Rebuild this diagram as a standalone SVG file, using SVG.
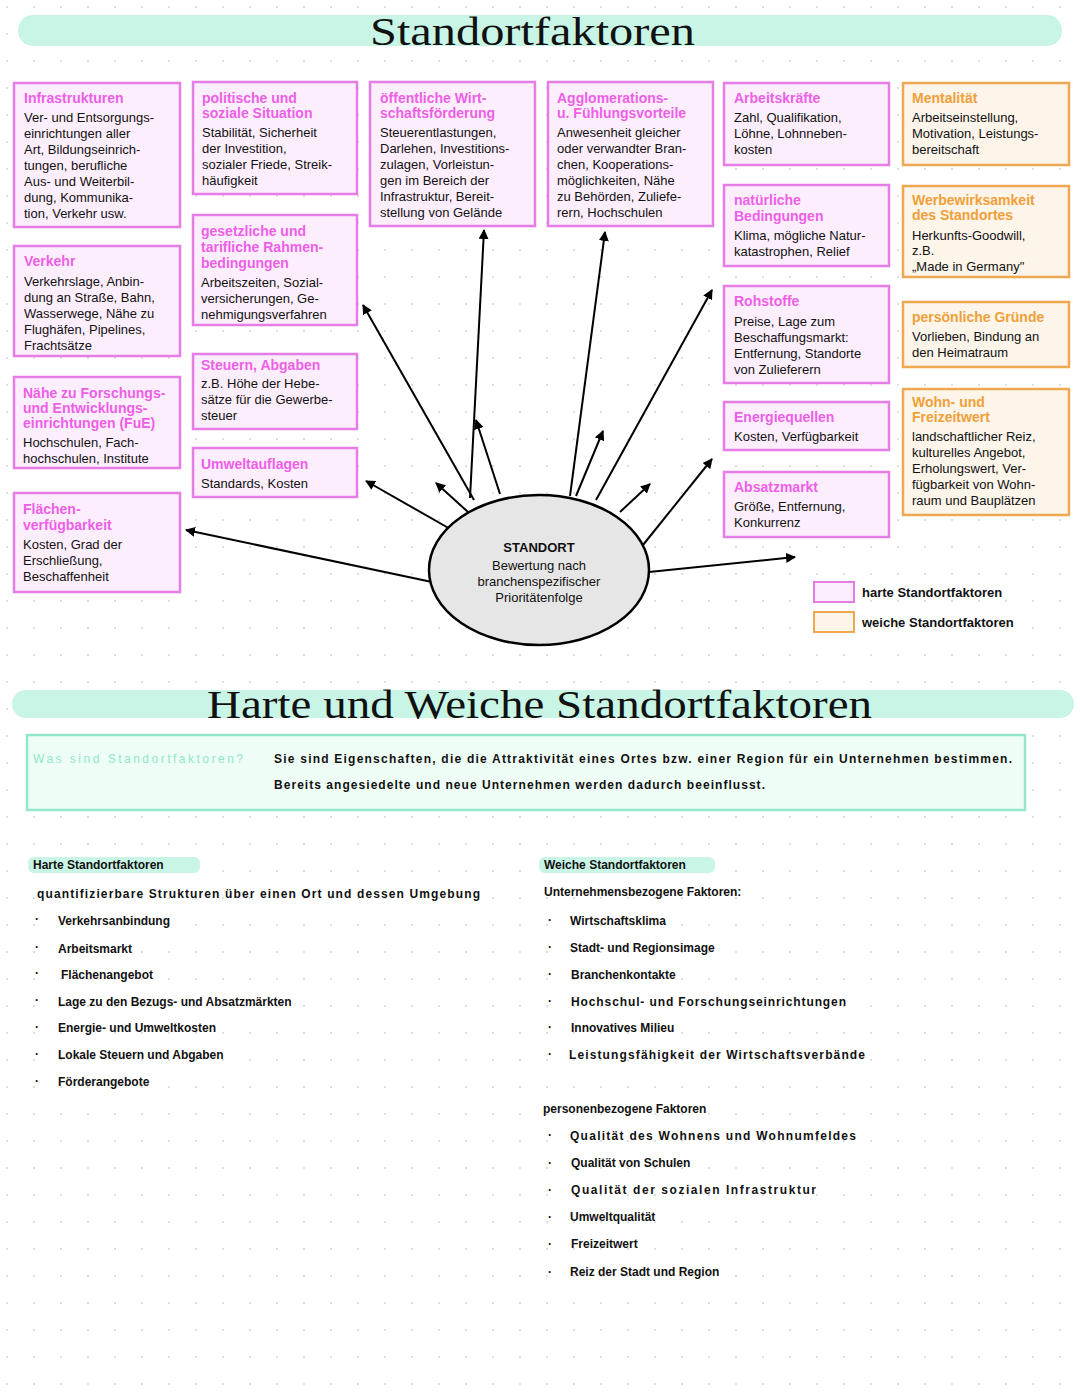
<svg xmlns="http://www.w3.org/2000/svg" width="1080" height="1394" viewBox="0 0 1080 1394">
<defs>
<pattern id="dots" width="27" height="27" patternUnits="userSpaceOnUse" x="5" y="5"><circle cx="2" cy="2" r="1" fill="#d4d4d4"/></pattern>
<marker id="ah" viewBox="0 0 10 10" refX="9" refY="5" markerWidth="5" markerHeight="5" orient="auto"><path d="M0,0 L10,5 L0,10 z" fill="#000"/></marker>
<style>
.hb{fill:#fdeefd;stroke:#e67de6;stroke-width:2.5}
.sb{fill:#fdf4ea;stroke:#f0a850;stroke-width:2.5}
.ht{font-family:"Liberation Sans",sans-serif;font-size:14px;font-weight:bold;fill:#ee5fe8}
.st{font-family:"Liberation Sans",sans-serif;font-size:14px;font-weight:bold;fill:#f0a038}
.t{font-family:"Liberation Sans",sans-serif;font-size:13px;fill:#111}
.h{font-family:"Liberation Serif",serif;font-size:40px;fill:#111}
.n{font-family:"Liberation Sans",sans-serif;font-size:12px;fill:#111;font-weight:bold}
.c line{stroke:#000;stroke-width:2;marker-end:url(#ah)}
</style>
</defs>
<rect width="1080" height="1394" fill="#fff"/>
<rect width="1080" height="1394" fill="url(#dots)"/>
<rect x="18" y="15" width="1044" height="31" rx="15" fill="#c9f5e6"/>
<text class="h" x="370" y="45" textLength="325" lengthAdjust="spacingAndGlyphs">Standortfaktoren</text>

<g id="infrastrukturen"><rect class="hb" x="14" y="83" width="166" height="144"/><text class="ht" x="24" y="103">Infrastrukturen</text><text class="t" x="24" y="122">Ver- und Entsorgungs-</text><text class="t" x="24" y="138">einrichtungen aller</text><text class="t" x="24" y="154">Art, Bildungseinrich-</text><text class="t" x="24" y="170">tungen, berufliche</text><text class="t" x="24" y="186">Aus- und Weiterbil-</text><text class="t" x="24" y="202">dung, Kommunika-</text><text class="t" x="24" y="218">tion, Verkehr usw.</text></g>
<g id="verkehr"><rect class="hb" x="14" y="246" width="166" height="110"/><text class="ht" x="24" y="266">Verkehr</text><text class="t" x="24" y="286">Verkehrslage, Anbin-</text><text class="t" x="24" y="302">dung an Straße, Bahn,</text><text class="t" x="24" y="318">Wasserwege, Nähe zu</text><text class="t" x="24" y="334">Flughäfen, Pipelines,</text><text class="t" x="24" y="350">Frachtsätze</text></g>
<g id="fue"><rect class="hb" x="14" y="377" width="166" height="91"/><text class="ht" x="23" y="398">Nähe zu Forschungs-</text><text class="ht" x="23" y="413">und Entwicklungs-</text><text class="ht" x="23" y="428">einrichtungen (FuE)</text><text class="t" x="23" y="447">Hochschulen, Fach-</text><text class="t" x="23" y="463">hochschulen, Institute</text></g>
<g id="flaechen"><rect class="hb" x="14" y="493" width="166" height="99"/><text class="ht" x="23" y="514">Flächen-</text><text class="ht" x="23" y="530">verfügbarkeit</text><text class="t" x="23" y="549">Kosten, Grad der</text><text class="t" x="23" y="565">Erschließung,</text><text class="t" x="23" y="581">Beschaffenheit</text></g>

<g id="politisch"><rect class="hb" x="193" y="82" width="164" height="112"/><text class="ht" x="202" y="103">politische und</text><text class="ht" x="202" y="118">soziale Situation</text><text class="t" x="202" y="137">Stabilität, Sicherheit</text><text class="t" x="202" y="153">der Investition,</text><text class="t" x="202" y="169">sozialer Friede, Streik-</text><text class="t" x="202" y="185">häufigkeit</text></g>
<g id="gesetzlich"><rect class="hb" x="193" y="215" width="164" height="110"/><text class="ht" x="201" y="236">gesetzliche und</text><text class="ht" x="201" y="252">tarifliche Rahmen-</text><text class="ht" x="201" y="268">bedingungen</text><text class="t" x="201" y="287">Arbeitszeiten, Sozial-</text><text class="t" x="201" y="303">versicherungen, Ge-</text><text class="t" x="201" y="319">nehmigungsverfahren</text></g>
<g id="steuern"><rect class="hb" x="193" y="354" width="164" height="75"/><text class="ht" x="201" y="370">Steuern, Abgaben</text><text class="t" x="201" y="388">z.B. Höhe der Hebe-</text><text class="t" x="201" y="404">sätze für die Gewerbe-</text><text class="t" x="201" y="420">steuer</text></g>
<g id="umwelt"><rect class="hb" x="193" y="448" width="164" height="49"/><text class="ht" x="201" y="469">Umweltauflagen</text><text class="t" x="201" y="488">Standards, Kosten</text></g>

<g id="oeffentlich"><rect class="hb" x="370" y="82" width="165" height="144"/><text class="ht" x="380" y="103">öffentliche Wirt-</text><text class="ht" x="380" y="118">schaftsförderung</text><text class="t" x="380" y="137">Steuerentlastungen,</text><text class="t" x="380" y="153">Darlehen, Investitions-</text><text class="t" x="380" y="169">zulagen, Vorleistun-</text><text class="t" x="380" y="185">gen im Bereich der</text><text class="t" x="380" y="201">Infrastruktur, Bereit-</text><text class="t" x="380" y="217">stellung von Gelände</text></g>
<g id="agglomeration"><rect class="hb" x="548" y="82" width="165" height="144"/><text class="ht" x="557" y="103">Agglomerations-</text><text class="ht" x="557" y="118">u. Fühlungsvorteile</text><text class="t" x="557" y="137">Anwesenheit gleicher</text><text class="t" x="557" y="153">oder verwandter Bran-</text><text class="t" x="557" y="169">chen, Kooperations-</text><text class="t" x="557" y="185">möglichkeiten, Nähe</text><text class="t" x="557" y="201">zu Behörden, Zuliefe-</text><text class="t" x="557" y="217">rern, Hochschulen</text></g>

<g id="arbeitskraefte"><rect class="hb" x="724" y="83" width="165" height="82"/><text class="ht" x="734" y="103">Arbeitskräfte</text><text class="t" x="734" y="122">Zahl, Qualifikation,</text><text class="t" x="734" y="138">Löhne, Lohnneben-</text><text class="t" x="734" y="154">kosten</text></g>
<g id="natuerlich"><rect class="hb" x="724" y="185" width="165" height="81"/><text class="ht" x="734" y="205">natürliche</text><text class="ht" x="734" y="221">Bedingungen</text><text class="t" x="734" y="240">Klima, mögliche Natur-</text><text class="t" x="734" y="256">katastrophen, Relief</text></g>
<g id="rohstoffe"><rect class="hb" x="724" y="286" width="165" height="97"/><text class="ht" x="734" y="306">Rohstoffe</text><text class="t" x="734" y="326">Preise, Lage zum</text><text class="t" x="734" y="342">Beschaffungsmarkt:</text><text class="t" x="734" y="358">Entfernung, Standorte</text><text class="t" x="734" y="374">von Zulieferern</text></g>
<g id="energie"><rect class="hb" x="724" y="402" width="165" height="48"/><text class="ht" x="734" y="422">Energiequellen</text><text class="t" x="734" y="441">Kosten, Verfügbarkeit</text></g>
<g id="absatz"><rect class="hb" x="724" y="472" width="165" height="65"/><text class="ht" x="734" y="492">Absatzmarkt</text><text class="t" x="734" y="511">Größe, Entfernung,</text><text class="t" x="734" y="527">Konkurrenz</text></g>

<g id="mentalitaet"><rect class="sb" x="903" y="83" width="166" height="82"/><text class="st" x="912" y="103">Mentalität</text><text class="t" x="912" y="122">Arbeitseinstellung,</text><text class="t" x="912" y="138">Motivation, Leistungs-</text><text class="t" x="912" y="154">bereitschaft</text></g>
<g id="werbewirksamkeit"><rect class="sb" x="903" y="186" width="166" height="91"/><text class="st" x="912" y="205">Werbewirksamkeit</text><text class="st" x="912" y="220">des Standortes</text><text class="t" x="912" y="240">Herkunfts-Goodwill,</text><text class="t" x="912" y="255">z.B.</text><text class="t" x="912" y="271">„Made in Germany"</text></g>
<g id="persoenlich"><rect class="sb" x="903" y="302" width="166" height="65"/><text class="st" x="912" y="322">persönliche Gründe</text><text class="t" x="912" y="341">Vorlieben, Bindung an</text><text class="t" x="912" y="357">den Heimatraum</text></g>
<g id="wohn"><rect class="sb" x="903" y="389" width="166" height="126"/><text class="st" x="912" y="407">Wohn- und</text><text class="st" x="912" y="422">Freizeitwert</text><text class="t" x="912" y="441">landschaftlicher Reiz,</text><text class="t" x="912" y="457">kulturelles Angebot,</text><text class="t" x="912" y="473">Erholungswert, Ver-</text><text class="t" x="912" y="489">fügbarkeit von Wohn-</text><text class="t" x="912" y="505">raum und Bauplätzen</text></g>

<g class="c" id="connectors">
<line x1="470" y1="498" x2="484" y2="230"/>
<line x1="570" y1="496" x2="605" y2="232"/>
<line x1="474" y1="500" x2="363" y2="305"/>
<line x1="500" y1="494" x2="476" y2="420"/>
<line x1="468" y1="512" x2="436" y2="483"/>
<line x1="452" y1="530" x2="366" y2="481"/>
<line x1="432" y1="582" x2="186" y2="530"/>
<line x1="596" y1="500" x2="712" y2="290"/>
<line x1="576" y1="496" x2="603" y2="431"/>
<line x1="620" y1="512" x2="650" y2="484"/>
<line x1="643" y1="545" x2="712" y2="459"/>
<line x1="649" y1="572" x2="795" y2="557"/>
</g>
<g id="standort"><ellipse cx="539" cy="570" rx="110" ry="75" fill="#e6e6e6" stroke="#000" stroke-width="2.5"/><text class="t" x="539" y="552" text-anchor="middle" font-weight="bold">STANDORT</text><text class="t" x="539" y="570" text-anchor="middle">Bewertung nach</text><text class="t" x="539" y="586" text-anchor="middle">branchenspezifischer</text><text class="t" x="539" y="602" text-anchor="middle">Prioritätenfolge</text></g>
<g id="legend"><rect x="814" y="582" width="40" height="20" fill="#fdeefd" stroke="#e67de6" stroke-width="2"/><text class="t" x="862" y="597" font-weight="bold">harte Standortfaktoren</text><rect x="814" y="612" width="40" height="20" fill="#fdf4ea" stroke="#f0a850" stroke-width="2"/><text class="t" x="862" y="627" font-weight="bold">weiche Standortfaktoren</text></g>

<rect x="12" y="690" width="1062" height="28" rx="14" fill="#c9f5e6"/>
<text class="h" x="207" y="718" textLength="665" lengthAdjust="spacingAndGlyphs">Harte und Weiche Standortfaktoren</text>
<g id="info"><rect x="27" y="735" width="998" height="75" fill="#effdf7" stroke="#93e8c9" stroke-width="2.5"/><text x="33" y="763" font-family="Liberation Sans,sans-serif" font-size="12" fill="#8ee8c8" textLength="210">Was sind Standortfaktoren?</text><text class="n" x="274" y="763" textLength="738">Sie sind Eigenschaften, die die Attraktivität eines Ortes bzw. einer Region für ein Unternehmen bestimmen.</text><text class="n" x="274" y="789" textLength="491">Bereits angesiedelte und neue Unternehmen werden dadurch beeinflusst.</text></g>

<g id="harte">
<rect x="28" y="857" width="172" height="16" rx="6" fill="#c9f5e6"/>
<text class="n" x="33" y="869">Harte Standortfaktoren</text>
<text class="n" x="37" y="898" textLength="443">quantifizierbare Strukturen über einen Ort und dessen Umgebung</text>
<g class="n"><text x="35" y="923">·</text><text x="35" y="951">·</text><text x="35" y="977">·</text><text x="35" y="1004">·</text><text x="35" y="1031">·</text><text x="35" y="1058">·</text><text x="35" y="1085">·</text></g>
<text class="n" x="58" y="925">Verkehrsanbindung</text>
<text class="n" x="58" y="953">Arbeitsmarkt</text>
<text class="n" x="61" y="979">Flächenangebot</text>
<text class="n" x="58" y="1006">Lage zu den Bezugs- und Absatzmärkten</text>
<text class="n" x="58" y="1032">Energie- und Umweltkosten</text>
<text class="n" x="58" y="1059">Lokale Steuern und Abgaben</text>
<text class="n" x="58" y="1086">Förderangebote</text>
</g>
<g id="weiche">
<rect x="539" y="857" width="176" height="16" rx="6" fill="#c9f5e6"/>
<text class="n" x="544" y="869">Weiche Standortfaktoren</text>
<text class="n" x="544" y="896">Unternehmensbezogene Faktoren:</text>
<g class="n"><text x="548" y="924">·</text><text x="548" y="951">·</text><text x="548" y="978">·</text><text x="548" y="1005">·</text><text x="548" y="1031">·</text><text x="548" y="1058">·</text><text x="548" y="1139">·</text><text x="548" y="1167">·</text><text x="548" y="1194">·</text><text x="548" y="1221">·</text><text x="548" y="1248">·</text><text x="548" y="1276">·</text></g>
<text class="n" x="570" y="925">Wirtschaftsklima</text>
<text class="n" x="570" y="952">Stadt- und Regionsimage</text>
<text class="n" x="571" y="979">Branchenkontakte</text>
<text class="n" x="571" y="1006" textLength="275">Hochschul- und Forschungseinrichtungen</text>
<text class="n" x="571" y="1032">Innovatives Milieu</text>
<text class="n" x="569" y="1059" textLength="296">Leistungsfähigkeit der Wirtschaftsverbände</text>
<text class="n" x="543" y="1113">personenbezogene Faktoren</text>
<text class="n" x="570" y="1140" textLength="286">Qualität des Wohnens und Wohnumfeldes</text>
<text class="n" x="571" y="1167">Qualität von Schulen</text>
<text class="n" x="571" y="1194" textLength="245">Qualität der sozialen Infrastruktur</text>
<text class="n" x="570" y="1221">Umweltqualität</text>
<text class="n" x="571" y="1248">Freizeitwert</text>
<text class="n" x="570" y="1276">Reiz der Stadt und Region</text>
</g>
</svg>
